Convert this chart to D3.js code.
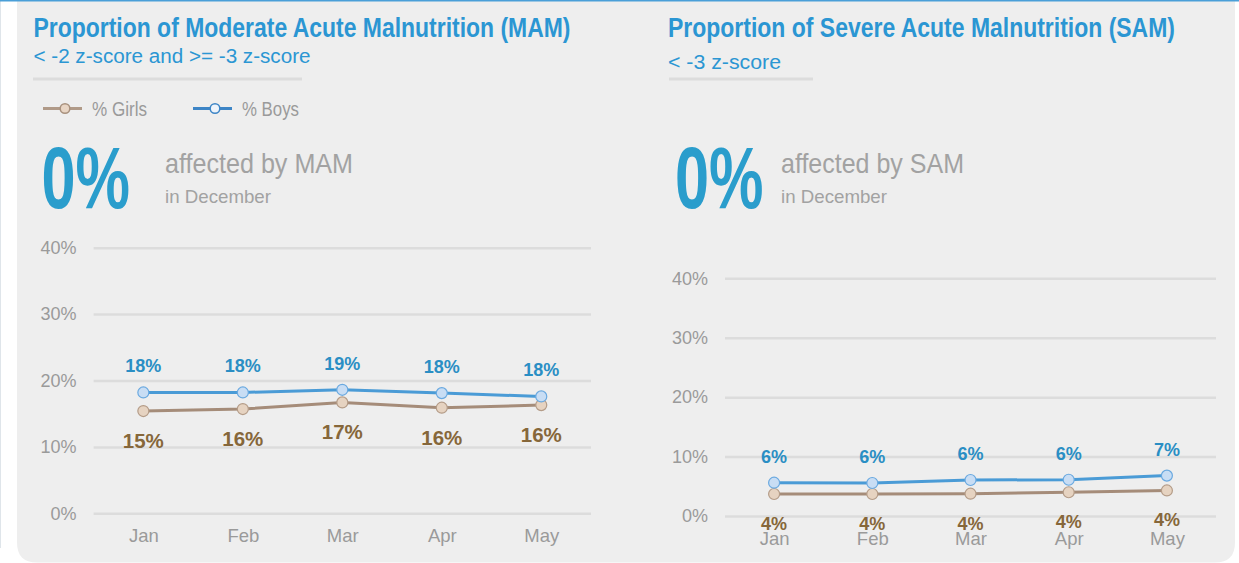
<!DOCTYPE html>
<html>
<head>
<meta charset="utf-8">
<script src="https://cdn.jsdelivr.net/npm/d3@7"></script>
<style>
  html, body { margin: 0; padding: 0; background: #ffffff; }
  svg { display: block; }
  text { font-family: "Liberation Sans Narrow", "Liberation Sans", Arial, sans-serif; }
  .tick text, .val { font-family: "Liberation Sans", Arial, sans-serif; }
</style>
</head>
<body>
<div id="chart"></div>
<script>
// Months shown on both charts
const months = ["Jan", "Feb", "Mar", "Apr", "May"];

// MAM (% of children)
const mamGirls = [15.4, 15.7, 16.7, 15.9, 16.3];
const mamBoys = [18.2, 18.2, 18.6, 18.1, 17.6];

// SAM (% of children)
const samGirls = [3.7, 3.7, 3.75, 4.0, 4.3];
const samBoys = [5.6, 5.55, 6.06, 6.1, 6.8];

// y axis ticks
const yTicks = [0, 10, 20, 30, 40];

const W = 1239, H = 563;
const blue = "#2b96d3";
const grey = "#9a9a9a";

const svg = d3.select("#chart")
    .append("svg")
    .attr("width", W)
    .attr("height", H);

// Panel background, rounded at the bottom
const px0 = 17, px1 = 1235, py1 = 562.5, r = 20;
svg.append("path")
    .attr("d", `M${px0},0 H${px1} V${py1 - r} Q${px1},${py1} ${px1 - r},${py1} H${px0 + r} Q${px0},${py1} ${px0},${py1 - r} Z`)
    .style("fill", "#eeeeee");

svg.append("line")
    .attr("x1", 0.5).attr("x2", 0.5).attr("y1", 0).attr("y2", 548)
    .style("stroke", "#dfe5ea").style("stroke-width", 1);

svg.append("rect")
    .attr("x", 0).attr("y", 0).attr("width", W).attr("height", 1.5)
    .style("fill", "#4a9fd8");

const panels = [
    {
        title: "Proportion of Moderate Acute Malnutrition (MAM)", titleW: 537,
        subtitle: "< -2 z-score and >= -3 z-score", subW: 277, subY: 62.5,
        left: 33.5, rule: [33, 302],
        legend: true,
        bigX: 41.5, textX: 165,
        affected: "affected by MAM", affW: 188,
        girls: mamGirls, boys: mamBoys,
        xr: [93.6, 591], yr: [513.3, 247.7],
        girlSize: 20.5, girlDy: 37, boySize: 18, boyDy: -20
    },
    {
        title: "Proportion of Severe Acute Malnutrition (SAM)", titleW: 507,
        subtitle: "< -3 z-score", subW: 113, subY: 68.5,
        left: 668, rule: [669, 813],
        legend: false,
        bigX: 675, textX: 781,
        affected: "affected by SAM", affW: 183,
        girls: samGirls, boys: samBoys,
        xr: [725, 1216], yr: [516, 278.3],
        girlSize: 18, girlDy: 36, boySize: 18, boyDy: -20
    }
];

function drawPanel(p) {
    const g = svg.append("g");

    // Headings
    g.append("text")
        .attr("x", p.left).attr("y", 37)
        .attr("textLength", p.titleW).attr("lengthAdjust", "spacingAndGlyphs")
        .style("font-size", "27px").style("font-weight", "bold").style("fill", blue)
        .text(p.title);

    g.append("text")
        .attr("x", p.left).attr("y", p.subY)
        .attr("textLength", p.subW).attr("lengthAdjust", "spacingAndGlyphs")
        .style("font-size", "20px").style("fill", blue)
        .text(p.subtitle);

    g.append("line")
        .attr("x1", p.rule[0]).attr("x2", p.rule[1])
        .attr("y1", 79).attr("y2", 79)
        .style("stroke", "#dcdcdc").style("stroke-width", 3);

    // Big number block
    g.append("text")
        .attr("x", p.bigX).attr("y", 208)
        .attr("textLength", 88.5).attr("lengthAdjust", "spacingAndGlyphs")
        .style("font-size", "87px").style("font-weight", "bold").style("fill", "#2a9dcc")
        .text("0%");

    g.append("text")
        .attr("x", p.textX).attr("y", 173)
        .attr("textLength", p.affW).attr("lengthAdjust", "spacingAndGlyphs")
        .style("font-size", "28px").style("fill", "#a2a2a2")
        .text(p.affected);

    g.append("text")
        .attr("x", p.textX).attr("y", 203)
        .attr("textLength", 106).attr("lengthAdjust", "spacingAndGlyphs")
        .style("font-size", "19px").style("fill", "#a2a2a2")
        .text("in December");

    // Scales
    const x = d3.scalePoint().domain(months).range(p.xr).padding(0.5);
    const y = d3.scaleLinear().domain([0, 40]).range(p.yr);

    // Grid + y labels
    const yAxis = g.append("g")
        .attr("transform", `translate(${p.xr[0]},0)`)
        .call(d3.axisLeft(y).tickValues(yTicks).tickSize(-(p.xr[1] - p.xr[0])).tickPadding(17).tickFormat(d => d + "%"));
    yAxis.select(".domain").remove();
    yAxis.selectAll("line").style("stroke", "#dcdcdc").style("stroke-width", 2.5);
    yAxis.selectAll("text").style("font-size", "18px").style("fill", grey);

    // x labels
    const xAxis = g.append("g")
        .attr("transform", `translate(0,${p.yr[0]})`)
        .call(d3.axisBottom(x).tickSize(0));
    xAxis.select(".domain").remove();
    xAxis.selectAll("text")
        .attr("dy", null).attr("y", 28.5)
        .style("font-size", "18.5px").style("fill", grey);

    const line = d3.line()
        .x((d, i) => x(months[i]))
        .y(d => y(d));

    const series = [
        { values: p.girls, stroke: "#a58c79", fill: "#e6d3c1", ring: "#b49c88",
          label: "#86673a", size: p.girlSize, dy: p.girlDy },
        { values: p.boys, stroke: "#4a9bd6", fill: "#c8ddf4", ring: "#6aa9e0",
          label: "#2a8ec4", size: p.boySize, dy: p.boyDy }
    ];

    series.forEach(s => {
        g.append("path")
            .datum(s.values)
            .attr("d", line)
            .style("fill", "none")
            .style("stroke", s.stroke)
            .style("stroke-width", 3);

        g.selectAll(null)
            .data(s.values)
            .enter().append("circle")
            .attr("cx", (d, i) => x(months[i]))
            .attr("cy", d => y(d))
            .attr("r", 5.5)
            .style("fill", s.fill)
            .style("stroke", s.ring)
            .style("stroke-width", 1.2);

        g.selectAll(null)
            .data(s.values)
            .enter().append("text")
            .attr("class", "val")
            .attr("x", (d, i) => x(months[i]))
            .attr("y", d => y(d) + s.dy)
            .attr("text-anchor", "middle")
            .style("font-size", s.size + "px")
            .style("font-weight", "bold")
            .style("fill", s.label)
            .text(d => Math.round(d) + "%");
    });

    // Legend (left chart only)
    if (p.legend) {
        const items = [
            { name: "% Girls", x0: 43, x1: 82, cx: 65, tx: 92, tw: 55, stroke: "#b09a88", fill: "#e8d5c4", ring: "#a8917e" },
            { name: "% Boys", x0: 193, x1: 232, cx: 215, tx: 242, tw: 57, stroke: "#3d85c6", fill: "#eef4fb", ring: "#3d85c6" }
        ];
        const lg = g.append("g");
        items.forEach(it => {
            lg.append("line")
                .attr("x1", it.x0).attr("x2", it.x1).attr("y1", 108.5).attr("y2", 108.5)
                .style("stroke", it.stroke).style("stroke-width", 3);
            lg.append("circle")
                .attr("cx", it.cx).attr("cy", 108.5).attr("r", 4.8)
                .style("fill", it.fill).style("stroke", it.ring).style("stroke-width", 1.5);
            lg.append("text")
                .attr("x", it.tx).attr("y", 115.5)
                .attr("textLength", it.tw).attr("lengthAdjust", "spacingAndGlyphs")
                .style("font-size", "20px").style("fill", grey)
                .text(it.name);
        });
    }
}

panels.forEach(drawPanel);
</script>
</body>
</html>
